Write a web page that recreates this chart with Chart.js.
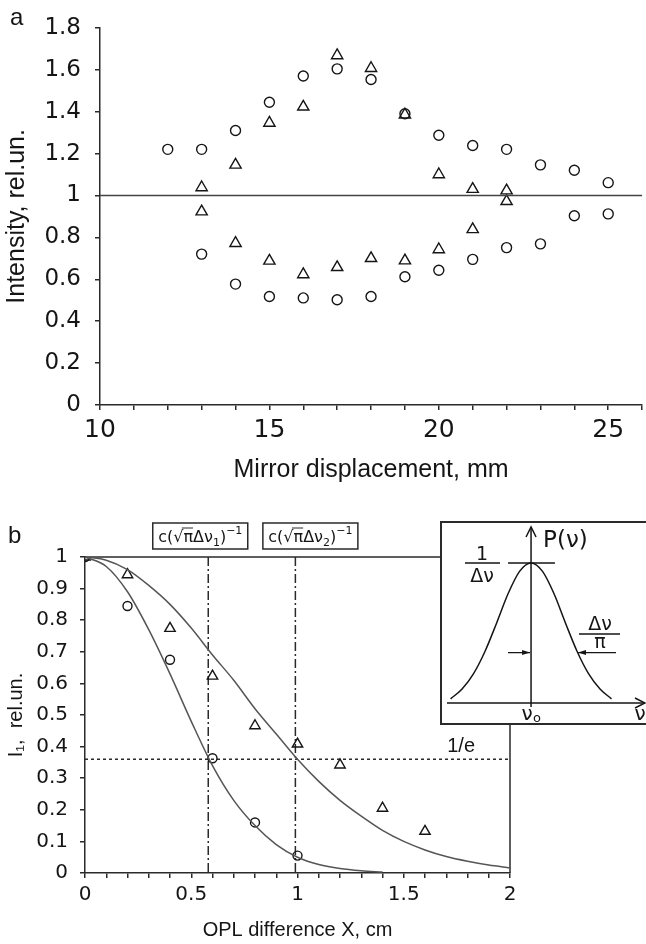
<!DOCTYPE html>
<html>
<head>
<meta charset="utf-8">
<script src="https://cdn.jsdelivr.net/npm/chart.js@4.4.0/dist/chart.umd.min.js"></script>
<style>
  html, body { margin: 0; padding: 0; background: #fff; }
  body { width: 646px; height: 944px; overflow: hidden; position: relative; }
  canvas { position: absolute; }
  #topChart { left: 0; top: 0; }
  #bottomChart { left: 0; top: 480px; }
  #insetChart { left: 440px; top: 521px; background: #fff; }
</style>
</head>
<body>
<canvas id="topChart" width="650" height="490"></canvas>
<canvas id="bottomChart" width="646" height="464"></canvas>
<canvas id="insetChart" width="206" height="204"></canvas>
<script>
// --- panel a: intensity vs mirror displacement ---
const posUpperCircles = [12, 13, 14, 15, 16, 17, 18, 19, 20, 21, 22, 23, 24, 25];
const upperCircles = [1.22, 1.22, 1.31, 1.445, 1.57, 1.604, 1.553, 1.39, 1.287, 1.238, 1.22, 1.146, 1.12, 1.061];
const posLowerCircles = [13, 14, 15, 16, 17, 18, 19, 20, 21, 22, 23, 24, 25];
const lowerCircles = [0.72, 0.577, 0.518, 0.511, 0.502, 0.518, 0.612, 0.643, 0.695, 0.751, 0.769, 0.903, 0.912];
const posTriangles = [13, 14, 15, 16, 17, 18, 19, 20, 21, 22];
const upperTriangles = [1.038, 1.146, 1.346, 1.423, 1.668, 1.607, 1.385, 1.10, 1.03, 1.023];
const lowerTriangles = [0.923, 0.772, 0.688, 0.623, 0.657, 0.70, 0.689, 0.742, 0.838, 0.972];
const baseLevel = 1;

// --- panel b: first-order coherence vs OPL difference ---
const oplPoints = [0, 0.2, 0.4, 0.6, 0.8, 1.0, 1.2, 1.4, 1.6];
const circlesI1 = [1, 0.845, 0.675, 0.363, 0.16, 0.055];
const trianglesI1 = [1, 0.944, 0.774, 0.623, 0.466, 0.408, 0.342, 0.205, 0.132];
const fitX = [0, 0.1, 0.2, 0.3, 0.4, 0.5, 0.6, 0.7, 0.8, 0.9, 1.0, 1.1, 1.2, 1.3, 1.4, 1.5, 1.6, 1.7, 1.8, 1.9, 2.0];
const fitNarrow = [1, 0.97, 0.89, 0.77, 0.63, 0.48, 0.34, 0.23, 0.15, 0.09, 0.05, 0.027, 0.014, 0.007, 0.003];
const fitWide = [1, 0.99, 0.96, 0.91, 0.85, 0.775, 0.69, 0.61, 0.52, 0.44, 0.36, 0.29, 0.23, 0.18, 0.135, 0.10, 0.073, 0.052, 0.037, 0.025, 0.016];
const coherenceX = [0.58, 0.99];
const levelE = 0.36;

// --- inset: spectral line shape ---
const nuOffsets = [-1.75, -1.5, -1.25, -1, -0.75, -0.5, -0.25, 0, 0.25, 0.5, 0.75, 1, 1.25, 1.5, 1.75];
const spectrum = [0.03, 0.1, 0.21, 0.37, 0.57, 0.78, 0.94, 1, 0.94, 0.78, 0.57, 0.37, 0.21, 0.1, 0.03];

const ink = '#151515';
const axisColor = '#2a2a2a';

function toPoints(xs, ys) {
  return ys.map((v, i) => ({ x: xs[i], y: v }));
}

function markers(points, style, radius) {
  return {
    data: points,
    showLine: false,
    pointStyle: style,
    pointRadius: radius,
    pointBorderColor: ink,
    pointBackgroundColor: 'rgba(0,0,0,0)',
    pointBorderWidth: 1.4
  };
}

function curve(points, color) {
  return {
    data: points,
    showLine: true,
    pointRadius: 0,
    borderColor: color,
    borderWidth: 1.5,
    cubicInterpolationMode: 'monotone'
  };
}

function panelLetter(letter, x, y) {
  return {
    id: 'letter' + letter,
    afterDraw(chart) {
      const ctx = chart.ctx;
      ctx.save();
      ctx.font = '24px "Liberation Sans"';
      ctx.fillStyle = ink;
      ctx.textAlign = 'left';
      ctx.textBaseline = 'alphabetic';
      ctx.fillText(letter, x, y);
      ctx.restore();
    }
  };
}

function axisScale(opts) {
  return {
    type: 'linear',
    min: opts.min,
    max: opts.max,
    afterFit: opts.afterFit,
    ticks: {
      stepSize: opts.step,
      autoSkip: false,
      maxRotation: 0,
      padding: opts.pad,
      color: ink,
      font: { family: 'DejaVu Sans', size: opts.fontSize },
      callback: opts.label
    },
    grid: { drawOnChartArea: false, drawTicks: true, tickLength: 5, color: axisColor, lineWidth: 1.5 },
    border: { display: true, color: axisColor, width: 1.5 },
    title: {
      display: true,
      text: opts.title,
      color: ink,
      font: { family: 'Liberation Sans', size: opts.titleSize },
      padding: opts.titlePad
    }
  };
}

const baseOptions = {
  responsive: false,
  animation: false,
  events: [],
  plugins: { legend: { display: false }, tooltip: { enabled: false } }
};

// panel a
new Chart(document.getElementById('topChart'), {
  type: 'scatter',
  data: {
    datasets: [
      curve([{ x: 10, y: baseLevel }, { x: 26, y: baseLevel }], '#444'),
      markers(toPoints(posUpperCircles, upperCircles), 'circle', 5),
      markers(toPoints(posLowerCircles, lowerCircles), 'circle', 5),
      markers(toPoints(posTriangles, upperTriangles), 'triangle', 6.5),
      markers(toPoints(posTriangles, lowerTriangles), 'triangle', 6.5)
    ]
  },
  options: {
    ...baseOptions,
    layout: { padding: { top: 15, right: 0, bottom: 0, left: 0 } },
    scales: {
      x: axisScale({
        min: 10, max: 26, step: 1, pad: 5, fontSize: 25,
        label: v => (v % 5 === 0 && v <= 25 ? String(v) : ''),
        title: 'Mirror displacement, mm', titleSize: 25, titlePad: { top: 0, bottom: 5 },
        afterFit: s => { s.height = 85; }
      }),
      y: axisScale({
        min: 0, max: 1.8, step: 0.2, pad: 14, fontSize: 23,
        label: v => String(Math.round(v * 10) / 10),
        title: 'Intensity, rel.un.', titleSize: 25, titlePad: { top: 2, bottom: 0 },
        afterFit: s => { s.width = 100; }
      })
    }
  },
  plugins: [panelLetter('a', 10, 25)]
});

// boxed coherence-length label: c(√π Δν_i)^-1
function drawCoherenceBox(ctx, cx, top, index) {
  const big = '16px "DejaVu Sans"';
  const small = '11px "DejaVu Sans"';
  const pieces = [
    { text: 'c(', font: big, dy: 0 },
    { text: '\u221A', font: big, dy: 0, root: true },
    { text: '\u03C0', font: big, dy: 0, over: true },
    { text: '\u0394\u03BD', font: big, dy: 0 },
    { text: String(index), font: small, dy: 4 },
    { text: ')', font: big, dy: 0 },
    { text: '\u22121', font: small, dy: -8 }
  ];
  let total = 0;
  pieces.forEach(p => { ctx.font = p.font; p.w = ctx.measureText(p.text).width; total += p.w; });
  const bw = 95, bh = 26, base = top + 19;
  ctx.lineWidth = 1.5;
  ctx.strokeStyle = axisColor;
  ctx.strokeRect(cx - bw / 2, top, bw, bh);
  ctx.fillStyle = ink;
  ctx.textAlign = 'left';
  ctx.textBaseline = 'alphabetic';
  let x = cx - total / 2;
  let rootEnd = x;
  pieces.forEach(p => {
    ctx.font = p.font;
    ctx.fillText(p.text, x, base + p.dy);
    if (p.root) rootEnd = x + p.w * 0.85;
    if (p.over) {
      ctx.lineWidth = 1;
      ctx.beginPath();
      ctx.moveTo(rootEnd, base - 14);
      ctx.lineTo(x + p.w, base - 14);
      ctx.stroke();
    }
    x += p.w;
  });
}

const coherenceDecor = {
  id: 'coherenceDecor',
  beforeDatasetsDraw(chart) {
    const { ctx, chartArea: a, scales: { x, y } } = chart;
    ctx.save();
    ctx.strokeStyle = axisColor;
    ctx.lineWidth = 1.5;
    // frame on top and right
    ctx.beginPath();
    ctx.moveTo(a.left, a.top);
    ctx.lineTo(a.right, a.top);
    ctx.lineTo(a.right, a.bottom);
    ctx.stroke();
    // 1/e level
    const ye = y.getPixelForValue(levelE);
    ctx.setLineDash([3, 3]);
    ctx.beginPath();
    ctx.moveTo(a.left, ye);
    ctx.lineTo(a.right, ye);
    ctx.stroke();
    // coherence lengths
    ctx.setLineDash([9, 3, 2, 3]);
    coherenceX.forEach(v => {
      const px = x.getPixelForValue(v);
      ctx.beginPath();
      ctx.moveTo(px, a.top);
      ctx.lineTo(px, a.bottom);
      ctx.stroke();
    });
    ctx.restore();
  },
  afterDraw(chart) {
    const { ctx, chartArea: a, scales: { x, y } } = chart;
    ctx.save();
    const shifts = [-8, 15];
    coherenceX.forEach((v, i) => {
      drawCoherenceBox(ctx, x.getPixelForValue(v) + shifts[i], a.top - 34, i + 1);
    });
    ctx.font = '20px "Liberation Sans"';
    ctx.fillStyle = ink;
    ctx.textAlign = 'center';
    ctx.textBaseline = 'alphabetic';
    ctx.fillText('1/e', x.getPixelForValue(1.77), y.getPixelForValue(levelE) - 7);
    ctx.restore();
  }
};

// panel b
new Chart(document.getElementById('bottomChart'), {
  type: 'scatter',
  data: {
    datasets: [
      curve(toPoints(fitX, fitNarrow), '#555'),
      curve(toPoints(fitX, fitWide), '#555'),
      markers(toPoints(oplPoints, circlesI1), 'circle', 4.5),
      markers(toPoints(oplPoints, trianglesI1), 'triangle', 6)
    ]
  },
  options: {
    ...baseOptions,
    layout: { padding: { top: 77, right: 136, bottom: 0, left: 0 } },
    scales: {
      x: axisScale({
        min: 0, max: 2, step: 0.1, pad: 5, fontSize: 20,
        label: v => { const k = Math.round(v * 10); return k % 5 === 0 ? String(k / 10) : ''; },
        title: 'OPL difference X, cm', titleSize: 20, titlePad: { top: 0, bottom: 2 },
        afterFit: s => { s.height = 71; }
      }),
      y: axisScale({
        min: 0, max: 1, step: 0.1, pad: 12, fontSize: 20,
        label: v => String(Math.round(v * 10) / 10),
        title: 'I\u2081,  rel.un.', titleSize: 20, titlePad: { top: 4, bottom: 0 },
        afterFit: s => { s.width = 85; }
      })
    }
  },
  plugins: [coherenceDecor, panelLetter('b', 8, 63)]
});

function openHead(ctx, tx, ty, dx, dy, len, half) {
  const bx = tx - dx * len, by = ty - dy * len;
  ctx.beginPath();
  ctx.moveTo(bx - dy * half, by + dx * half);
  ctx.lineTo(tx, ty);
  ctx.lineTo(bx + dy * half, by - dx * half);
  ctx.stroke();
}

function solidHead(ctx, tx, ty, dx, len, half) {
  ctx.beginPath();
  ctx.moveTo(tx, ty);
  ctx.lineTo(tx - dx * len, ty - half);
  ctx.lineTo(tx - dx * len, ty + half);
  ctx.closePath();
  ctx.fill();
}

function fraction(ctx, cx, top, bottom, barY, x0, x1) {
  ctx.fillText(top.text, cx, top.y);
  ctx.fillText(bottom.text, cx, bottom.y);
  ctx.beginPath();
  ctx.moveTo(x0, barY);
  ctx.lineTo(x1, barY);
  ctx.stroke();
}

const spectrumDecor = {
  id: 'spectrumDecor',
  beforeDraw(chart) {
    const { ctx, width, height } = chart;
    ctx.save();
    ctx.strokeStyle = axisColor;
    ctx.lineWidth = 2;
    ctx.beginPath();
    ctx.moveTo(width + 2, 1);
    ctx.lineTo(1, 1);
    ctx.lineTo(1, height - 1);
    ctx.lineTo(width + 2, height - 1);
    ctx.stroke();
    ctx.restore();
  },
  afterDatasetsDraw(chart) {
    const { ctx, width, scales: { x, y } } = chart;
    const x0 = x.getPixelForValue(0);
    const base = y.getPixelForValue(0);
    const peak = y.getPixelForValue(1);
    ctx.save();
    ctx.strokeStyle = ink;
    ctx.fillStyle = ink;
    ctx.lineWidth = 1.5;
    // frequency axis
    ctx.beginPath();
    ctx.moveTo(7, base);
    ctx.lineTo(width - 1, base);
    ctx.stroke();
    openHead(ctx, width - 1, base, 1, 0, 10, 5);
    // P axis
    ctx.beginPath();
    ctx.moveTo(x0, base + 4);
    ctx.lineTo(x0, 6);
    ctx.stroke();
    openHead(ctx, x0, 6, 0, -1, 10, 5);
    // peak level
    ctx.beginPath();
    ctx.moveTo(x.getPixelForValue(-0.5), peak);
    ctx.lineTo(x.getPixelForValue(0.52), peak);
    ctx.stroke();
    // width at 1/e
    const yw = y.getPixelForValue(0.36);
    const xr = x.getPixelForValue(1);
    ctx.lineWidth = 1.2;
    ctx.beginPath();
    ctx.moveTo(x0 - 23, yw);
    ctx.lineTo(x0 - 1, yw);
    ctx.moveTo(xr + 39, yw);
    ctx.lineTo(xr + 1, yw);
    ctx.stroke();
    solidHead(ctx, x0 - 1, yw, 1, 8, 2.5);
    solidHead(ctx, xr + 1, yw, -1, 8, 2.5);
    // labels
    ctx.textBaseline = 'alphabetic';
    ctx.textAlign = 'left';
    ctx.font = '23px "DejaVu Sans"';
    ctx.fillText('P(\u03BD)', x0 + 12, 26);
    ctx.textAlign = 'center';
    ctx.font = '19px "DejaVu Sans"';
    ctx.lineWidth = 1.5;
    fraction(ctx, 42, { text: '1', y: 39 }, { text: '\u0394\u03BD', y: 61 }, peak, 25, 60);
    fraction(ctx, 160, { text: '\u0394\u03BD', y: 109 }, { text: '\u03C0', y: 127 }, 113, 139, 180);
    ctx.font = '20px "DejaVu Sans"';
    ctx.fillText('\u03BD', x0 - 4, 199);
    ctx.font = '13px "DejaVu Sans"';
    ctx.fillText('o', x0 + 6, 201);
    ctx.font = '20px "DejaVu Sans"';
    ctx.fillText('\u03BD', width - 6, 199);
    ctx.restore();
  }
};

// inset
new Chart(document.getElementById('insetChart'), {
  type: 'scatter',
  data: { datasets: [curve(toPoints(nuOffsets, spectrum), ink)] },
  options: {
    ...baseOptions,
    layout: { padding: 0 },
    scales: {
      x: { type: 'linear', display: false, min: -1.98, max: 2.5 },
      y: { type: 'linear', display: false, min: -0.157, max: 1.3 }
    }
  },
  plugins: [spectrumDecor]
});
</script>
</body>
</html>
